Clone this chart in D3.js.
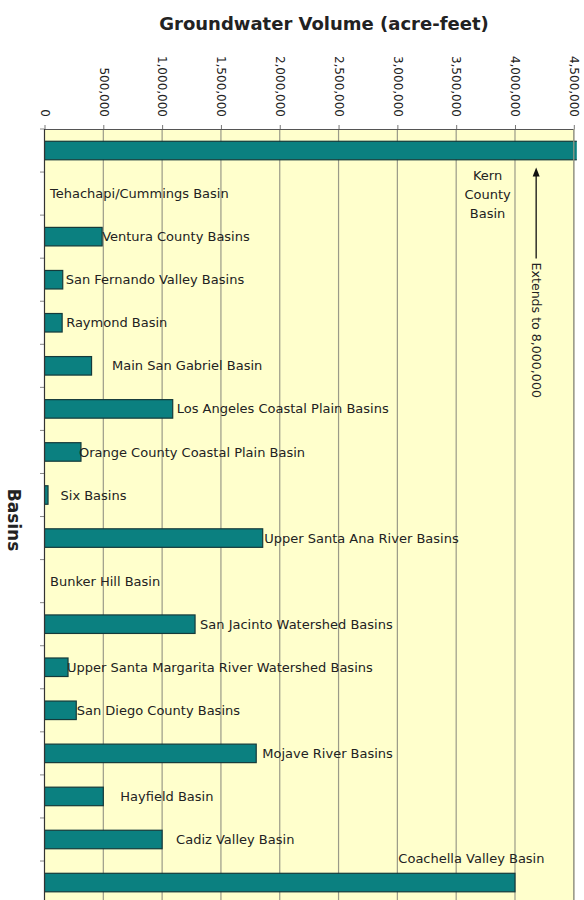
<!DOCTYPE html>
<html>
<head>
<meta charset="utf-8">
<script src="https://cdn.jsdelivr.net/npm/d3@7"></script>
<style>
  html, body { margin: 0; padding: 0; background: #ffffff; }
  svg { display: block; }
  text { font-family: "DejaVu Sans", Verdana, sans-serif; fill: #222; }
</style>
</head>
<body>
<svg id="chart" width="584" height="900"></svg>
<script>
// Groundwater basins, top to bottom
const categories = [
  "Kern County Basin",
  "Tehachapi/Cummings Basin",
  "Ventura County Basins",
  "San Fernando Valley Basins",
  "Raymond Basin",
  "Main San Gabriel Basin",
  "Los Angeles Coastal Plain Basins",
  "Orange County Coastal Plain Basin",
  "Six Basins",
  "Upper Santa Ana River Basins",
  "Bunker Hill Basin",
  "San Jacinto Watershed Basins",
  "Upper Santa Margarita River Watershed Basins",
  "San Diego County Basins",
  "Mojave River Basins",
  "Hayfield Basin",
  "Cadiz Valley Basin",
  "Coachella Valley Basin"
];

// Groundwater volume in acre-feet
const volumes = [
  8000000, 0, 490000, 155000, 150000, 400000, 1090000, 310000, 30000,
  1855000, 0, 1280000, 200000, 270000, 1800000, 500000, 1000000, 4000000
];

const xTicks = [0, 500000, 1000000, 1500000, 2000000, 2500000, 3000000, 3500000, 4000000, 4500000];

const titleText = "Groundwater Volume (acre-feet)";
const yTitleText = "Basins";
const kernNote = ["Kern", "County", "Basin"];
const extendsNote = "Extends to 8,000,000";

// ---- layout ----
const plot = { left: 44.5, right: 573.8, top: 129, step: 43.06 };
plot.bottom = plot.top + plot.step * categories.length;

// gap between a bar's end and the start of its name, in px
const labelGap = {
  "Tehachapi/Cummings Basin": 5.5,
  "Ventura County Basins": 0,
  "San Fernando Valley Basins": 3,
  "Raymond Basin": 4,
  "Main San Gabriel Basin": 20.5,
  "Los Angeles Coastal Plain Basins": 4,
  "Orange County Coastal Plain Basin": -2,
  "Six Basins": 12.5,
  "Upper Santa Ana River Basins": 1.5,
  "Bunker Hill Basin": 5.5,
  "San Jacinto Watershed Basins": 5,
  "Upper Santa Margarita River Watershed Basins": -1,
  "San Diego County Basins": 0.5,
  "Mojave River Basins": 6,
  "Hayfield Basin": 17,
  "Cadiz Valley Basin": 14
};

const data = categories.map((c, i) => ({ name: c, value: volumes[i] }));

const svg = d3.select("#chart");

const x = d3.scaleLinear().domain([0, 4500000]).range([plot.left, plot.right]);
const y = d3.scaleBand()
  .domain(categories)
  .range([plot.top, plot.bottom])
  .paddingInner(0.57)
  .paddingOuter(0.285);

// clip so the long Kern bar stops at the plot edge
svg.append("defs").append("clipPath").attr("id", "plotClip")
  .append("rect")
  .attr("x", plot.left).attr("y", plot.top)
  .attr("width", plot.right - plot.left + 3)
  .attr("height", plot.bottom - plot.top);

// plot background
svg.append("rect")
  .attr("x", plot.left).attr("y", plot.top)
  .attr("width", plot.right - plot.left)
  .attr("height", plot.bottom - plot.top)
  .attr("fill", "#ffffcc");

// vertical gridlines
svg.append("g")
  .selectAll("line")
  .data(xTicks.slice(1))
  .join("line")
  .attr("x1", d => x(d)).attr("x2", d => x(d))
  .attr("y1", plot.top).attr("y2", plot.bottom)
  .attr("stroke", "#9a9a88")
  .attr("stroke-width", 1.2);

// bars
svg.append("g")
  .attr("clip-path", "url(#plotClip)")
  .selectAll("rect")
  .data(data.filter(d => d.value > 0))
  .join("rect")
  .attr("x", x(0))
  .attr("y", d => y(d.name))
  .attr("width", d => x(d.value) - x(0))
  .attr("height", y.bandwidth())
  .attr("fill", "#0b8080")
  .attr("stroke", "#153a3a")
  .attr("stroke-width", 1.2);

// top axis
const xAxis = d3.axisTop(x)
  .tickValues(xTicks)
  .tickFormat(d3.format(","))
  .tickSize(4)
  .tickSizeOuter(0);

const gx = svg.append("g")
  .attr("transform", `translate(0,${plot.top})`)
  .call(xAxis);
gx.select(".domain").attr("stroke", "#555");
gx.selectAll(".tick line").attr("stroke", "#777");
gx.selectAll(".tick text")
  .attr("transform", "rotate(90)")
  .attr("x", -12)
  .attr("y", 0)
  .attr("dy", "0.35em")
  .attr("text-anchor", "end")
  .style("font-family", "'DejaVu Sans', Verdana, sans-serif")
  .style("font-size", "12px")
  .attr("fill", "#222");

// left axis: line with ticks at category boundaries
const boundaries = d3.range(categories.length + 1).map(i => plot.top + i * y.step());
svg.append("g")
  .selectAll("line")
  .data(boundaries)
  .join("line")
  .attr("x1", plot.left - 4.5).attr("x2", plot.left)
  .attr("y1", d => d).attr("y2", d => d)
  .attr("stroke", "#888");
svg.append("line")
  .attr("x1", plot.left).attr("x2", plot.left)
  .attr("y1", plot.top).attr("y2", plot.bottom)
  .attr("stroke", "#333").attr("stroke-width", 1.2);

// right border
svg.append("line")
  .attr("x1", plot.right).attr("x2", plot.right)
  .attr("y1", plot.top).attr("y2", plot.bottom)
  .attr("stroke", "#9a9a88").attr("stroke-width", 1.2);

// basin names beside their bars
const nameSize = "13px";
svg.append("g")
  .selectAll("text")
  .data(data.filter(d => d.name in labelGap))
  .join("text")
  .attr("x", d => x(d.value) + labelGap[d.name])
  .attr("y", d => y(d.name) + y.bandwidth() / 2)
  .attr("dy", "0.35em")
  .style("font-size", nameSize)
  .text(d => d.name);

// Coachella name sits above its bar
const coach = data[data.length - 1];
svg.append("text")
  .attr("x", x(3000000) + 1)
  .attr("y", y(coach.name) + y.bandwidth() / 2 - 24)
  .attr("dy", "0.35em")
  .style("font-size", nameSize)
  .text(coach.name);

// Kern County note under its bar
const kernCy = y(categories[0]) + y.bandwidth() / 2;
svg.append("g")
  .selectAll("text")
  .data(kernNote)
  .join("text")
  .attr("x", x(3750000) + 2)
  .attr("y", (d, i) => kernCy + 25 + i * 19)
  .attr("dy", "0.35em")
  .attr("text-anchor", "middle")
  .style("font-size", nameSize)
  .text(d => d);

// arrow pointing up to the Kern bar
const ax = x(4180000);
svg.append("line")
  .attr("x1", ax).attr("x2", ax)
  .attr("y1", kernCy + 24).attr("y2", kernCy + 108)
  .attr("stroke", "#111").attr("stroke-width", 1.3);
svg.append("path")
  .attr("d", `M${ax},${kernCy + 17} L${ax - 3.5},${kernCy + 26} L${ax + 3.5},${kernCy + 26} Z`)
  .attr("fill", "#111");
svg.append("text")
  .attr("transform", `translate(${ax},${kernCy + 112}) rotate(90)`)
  .attr("dy", "0.35em")
  .style("font-size", "12.6px")
  .text(extendsNote);

// titles
svg.append("text")
  .attr("x", 324).attr("y", 30)
  .attr("text-anchor", "middle")
  .style("font-size", "18px")
  .style("font-weight", "bold")
  .text(titleText);

svg.append("text")
  .attr("transform", "translate(8,520) rotate(90)")
  .attr("text-anchor", "middle")
  .style("font-size", "17px")
  .style("font-weight", "bold")
  .text(yTitleText);
</script>
</body>
</html>
